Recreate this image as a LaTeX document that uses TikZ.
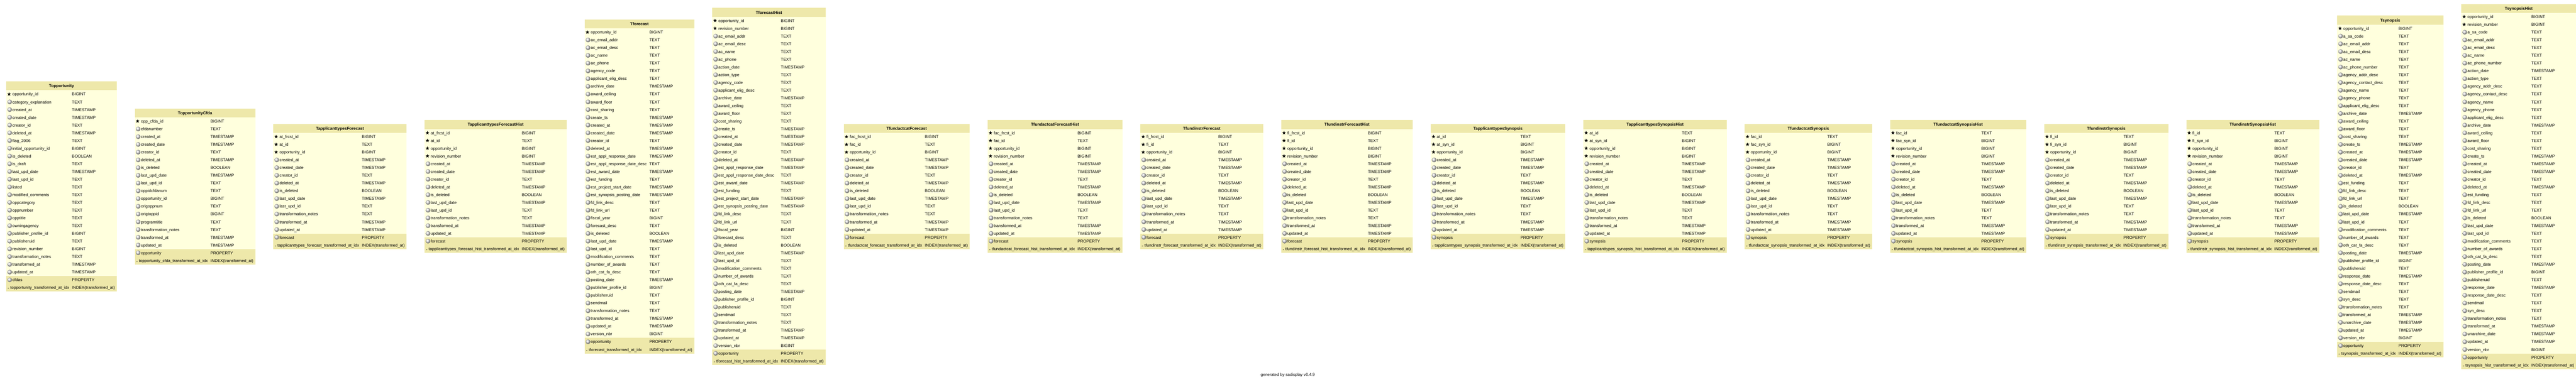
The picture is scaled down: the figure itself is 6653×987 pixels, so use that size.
\documentclass[tikz,border=0pt]{standalone}
\usepackage{fontspec}
\setmainfont{Liberation Sans}
\usetikzlibrary{positioning,shapes.geometric}

\definecolor{headfill}{RGB}{238,232,170}
\definecolor{rowfill}{RGB}{255,255,221}

% one row = 20pt, header = 23pt
\newcommand{\rowstrut}{\rule[-6pt]{0pt}{20pt}}
\newcommand{\headstrut}{\rule[-7.5pt]{0pt}{23pt}}
\newcommand{\fld}[2]{\hspace*{12.5pt}\detokenize{#1} & #2\rowstrut\\}
\newcommand{\idx}[1]{\makebox[7.2pt][l]{\hspace{0.5pt}\fontsize{6}{6}\selectfont »}\detokenize{#1} & \detokenize{INDEX(transformed_at)}\rowstrut\\}
\newcommand{\auditfields}{%
  \fld{created_at}{TIMESTAMP}
  \fld{created_date}{TIMESTAMP}
  \fld{creator_id}{TEXT}
  \fld{deleted_at}{TIMESTAMP}
  \fld{is_deleted}{BOOLEAN}
  \fld{last_upd_date}{TIMESTAMP}
  \fld{last_upd_id}{TEXT}
  \fld{transformation_notes}{TEXT}
  \fld{transformed_at}{TIMESTAMP}
  \fld{updated_at}{TIMESTAMP}}

\tikzset{
  dbtable/.style={fill=rowfill, inner sep=0pt, font=\fontsize{10.6}{12.7}\selectfont,
    path picture={
      \fill[headfill] (path picture bounding box.north west) rectangle ([yshift=-23pt]path picture bounding box.north east);
      \fill[headfill] (path picture bounding box.south west) rectangle ([yshift=40pt]path picture bounding box.south east);}},
  keymark/.style={star, star points=5, star point ratio=2.4, fill=black, inner sep=0pt, minimum size=10pt},
  colmark/.style={circle, inner sep=0pt, minimum size=12pt, ball color=gray!22},
}

% icons: #1 table, #2 key rows, #3 plain rows
\newcommand{\rowmarks}[3]{%
  \foreach \i in {1,...,#2}
    \node[keymark] (#1-k\i) at ([xshift=7.5pt, yshift=-13pt-\i*20pt]#1.north west) {};
  \foreach \i in {1,...,#3}
    \node[colmark] (#1-c\i) at ([xshift=9pt, yshift=-13pt-#2*20pt-\i*20pt]#1.north west) {};
}
% #1 name, #2 placement, #3 title, #4 key rows, #5 plain rows, #6 rows
\newcommand{\dbtable}[6]{%
  \node[dbtable, #2] (#1) {\begin{tabular}{@{\hspace{3.5pt}}l@{\hspace{7pt}}l@{\hspace{5pt}}}
      \multicolumn{2}{c}{\bfseries #3\headstrut}\\
      #6
    \end{tabular}};
  \rowmarks{#1}{#4}{#5}}

\begin{document}
\begin{tikzpicture}
\useasboundingbox (0,0) rectangle (6653pt,987pt);

\dbtable{topp}{anchor=west, at={(16pt,505pt)}}{Topportunity}{1}{24}{%
  \fld{opportunity_id}{BIGINT}
  \fld{category_explanation}{TEXT}
  \fld{created_at}{TIMESTAMP}
  \fld{created_date}{TIMESTAMP}
  \fld{creator_id}{TEXT}
  \fld{deleted_at}{TIMESTAMP}
  \fld{flag_2006}{TEXT}
  \fld{initial_opportunity_id}{BIGINT}
  \fld{is_deleted}{BOOLEAN}
  \fld{is_draft}{TEXT}
  \fld{last_upd_date}{TIMESTAMP}
  \fld{last_upd_id}{TEXT}
  \fld{listed}{TEXT}
  \fld{modified_comments}{TEXT}
  \fld{oppcategory}{TEXT}
  \fld{oppnumber}{TEXT}
  \fld{opptitle}{TEXT}
  \fld{owningagency}{TEXT}
  \fld{publisher_profile_id}{BIGINT}
  \fld{publisheruid}{TEXT}
  \fld{revision_number}{BIGINT}
  \fld{transformation_notes}{TEXT}
  \fld{transformed_at}{TIMESTAMP}
  \fld{updated_at}{TIMESTAMP}
  \fld{cfdas}{PROPERTY}
  \idx{topportunity_transformed_at_idx}}

\dbtable{toppcfda}{right=46pt of topp}{TopportunityCfda}{1}{17}{%
  \fld{opp_cfda_id}{BIGINT}
  \fld{cfdanumber}{TEXT}
  \fld{created_at}{TIMESTAMP}
  \fld{created_date}{TIMESTAMP}
  \fld{creator_id}{TEXT}
  \fld{deleted_at}{TIMESTAMP}
  \fld{is_deleted}{BOOLEAN}
  \fld{last_upd_date}{TIMESTAMP}
  \fld{last_upd_id}{TEXT}
  \fld{oppidcfdanum}{TEXT}
  \fld{opportunity_id}{BIGINT}
  \fld{origoppnum}{TEXT}
  \fld{origtoppid}{BIGINT}
  \fld{programtitle}{TEXT}
  \fld{transformation_notes}{TEXT}
  \fld{transformed_at}{TIMESTAMP}
  \fld{updated_at}{TIMESTAMP}
  \fld{opportunity}{PROPERTY}
  \idx{topportunity_cfda_transformed_at_idx}}

\dbtable{atfcst}{right=46pt of toppcfda}{TapplicanttypesForecast}{3}{11}{%
  \fld{at_frcst_id}{BIGINT}
  \fld{at_id}{TEXT}
  \fld{opportunity_id}{BIGINT}
  \auditfields
  \fld{forecast}{PROPERTY}
  \idx{tapplicanttypes_forecast_transformed_at_idx}}

\dbtable{atfcsthist}{right=46pt of atfcst}{TapplicanttypesForecastHist}{4}{11}{%
  \fld{at_frcst_id}{BIGINT}
  \fld{at_id}{TEXT}
  \fld{opportunity_id}{BIGINT}
  \fld{revision_number}{BIGINT}
  \auditfields
  \fld{forecast}{PROPERTY}
  \idx{tapplicanttypes_forecast_hist_transformed_at_idx}}

\dbtable{fcst}{right=46pt of atfcsthist}{Tforecast}{1}{40}{%
  \fld{opportunity_id}{BIGINT}
  \fld{ac_email_addr}{TEXT}
  \fld{ac_email_desc}{TEXT}
  \fld{ac_name}{TEXT}
  \fld{ac_phone}{TEXT}
  \fld{agency_code}{TEXT}
  \fld{applicant_elig_desc}{TEXT}
  \fld{archive_date}{TIMESTAMP}
  \fld{award_ceiling}{TEXT}
  \fld{award_floor}{TEXT}
  \fld{cost_sharing}{TEXT}
  \fld{create_ts}{TIMESTAMP}
  \fld{created_at}{TIMESTAMP}
  \fld{created_date}{TIMESTAMP}
  \fld{creator_id}{TEXT}
  \fld{deleted_at}{TIMESTAMP}
  \fld{est_appl_response_date}{TIMESTAMP}
  \fld{est_appl_response_date_desc}{TEXT}
  \fld{est_award_date}{TIMESTAMP}
  \fld{est_funding}{TEXT}
  \fld{est_project_start_date}{TIMESTAMP}
  \fld{est_synopsis_posting_date}{TIMESTAMP}
  \fld{fd_link_desc}{TEXT}
  \fld{fd_link_url}{TEXT}
  \fld{fiscal_year}{BIGINT}
  \fld{forecast_desc}{TEXT}
  \fld{is_deleted}{BOOLEAN}
  \fld{last_upd_date}{TIMESTAMP}
  \fld{last_upd_id}{TEXT}
  \fld{modification_comments}{TEXT}
  \fld{number_of_awards}{TEXT}
  \fld{oth_cat_fa_desc}{TEXT}
  \fld{posting_date}{TIMESTAMP}
  \fld{publisher_profile_id}{BIGINT}
  \fld{publisheruid}{TEXT}
  \fld{sendmail}{TEXT}
  \fld{transformation_notes}{TEXT}
  \fld{transformed_at}{TIMESTAMP}
  \fld{updated_at}{TIMESTAMP}
  \fld{version_nbr}{BIGINT}
  \fld{opportunity}{PROPERTY}
  \idx{tforecast_transformed_at_idx}}

\dbtable{fcsthist}{right=46pt of fcst}{TforecastHist}{2}{42}{%
  \fld{opportunity_id}{BIGINT}
  \fld{revision_number}{BIGINT}
  \fld{ac_email_addr}{TEXT}
  \fld{ac_email_desc}{TEXT}
  \fld{ac_name}{TEXT}
  \fld{ac_phone}{TEXT}
  \fld{action_date}{TIMESTAMP}
  \fld{action_type}{TEXT}
  \fld{agency_code}{TEXT}
  \fld{applicant_elig_desc}{TEXT}
  \fld{archive_date}{TIMESTAMP}
  \fld{award_ceiling}{TEXT}
  \fld{award_floor}{TEXT}
  \fld{cost_sharing}{TEXT}
  \fld{create_ts}{TIMESTAMP}
  \fld{created_at}{TIMESTAMP}
  \fld{created_date}{TIMESTAMP}
  \fld{creator_id}{TEXT}
  \fld{deleted_at}{TIMESTAMP}
  \fld{est_appl_response_date}{TIMESTAMP}
  \fld{est_appl_response_date_desc}{TEXT}
  \fld{est_award_date}{TIMESTAMP}
  \fld{est_funding}{TEXT}
  \fld{est_project_start_date}{TIMESTAMP}
  \fld{est_synopsis_posting_date}{TIMESTAMP}
  \fld{fd_link_desc}{TEXT}
  \fld{fd_link_url}{TEXT}
  \fld{fiscal_year}{BIGINT}
  \fld{forecast_desc}{TEXT}
  \fld{is_deleted}{BOOLEAN}
  \fld{last_upd_date}{TIMESTAMP}
  \fld{last_upd_id}{TEXT}
  \fld{modification_comments}{TEXT}
  \fld{number_of_awards}{TEXT}
  \fld{oth_cat_fa_desc}{TEXT}
  \fld{posting_date}{TIMESTAMP}
  \fld{publisher_profile_id}{BIGINT}
  \fld{publisheruid}{TEXT}
  \fld{sendmail}{TEXT}
  \fld{transformation_notes}{TEXT}
  \fld{transformed_at}{TIMESTAMP}
  \fld{updated_at}{TIMESTAMP}
  \fld{version_nbr}{BIGINT}
  \fld{opportunity}{PROPERTY}
  \idx{tforecast_hist_transformed_at_idx}}

\dbtable{facfcst}{right=46pt of fcsthist}{TfundactcatForecast}{3}{11}{%
  \fld{fac_frcst_id}{BIGINT}
  \fld{fac_id}{TEXT}
  \fld{opportunity_id}{BIGINT}
  \auditfields
  \fld{forecast}{PROPERTY}
  \idx{tfundactcat_forecast_transformed_at_idx}}

\dbtable{facfcsthist}{right=46pt of facfcst}{TfundactcatForecastHist}{4}{11}{%
  \fld{fac_frcst_id}{BIGINT}
  \fld{fac_id}{TEXT}
  \fld{opportunity_id}{BIGINT}
  \fld{revision_number}{BIGINT}
  \auditfields
  \fld{forecast}{PROPERTY}
  \idx{tfundactcat_forecast_hist_transformed_at_idx}}

\dbtable{fifcst}{right=46pt of facfcsthist}{TfundinstrForecast}{3}{11}{%
  \fld{fi_frcst_id}{BIGINT}
  \fld{fi_id}{TEXT}
  \fld{opportunity_id}{BIGINT}
  \auditfields
  \fld{forecast}{PROPERTY}
  \idx{tfundinstr_forecast_transformed_at_idx}}

\dbtable{fifcsthist}{right=46pt of fifcst}{TfundinstrForecastHist}{4}{11}{%
  \fld{fi_frcst_id}{BIGINT}
  \fld{fi_id}{TEXT}
  \fld{opportunity_id}{BIGINT}
  \fld{revision_number}{BIGINT}
  \auditfields
  \fld{forecast}{PROPERTY}
  \idx{tfundinstr_forecast_hist_transformed_at_idx}}

\dbtable{atsyn}{right=46pt of fifcsthist}{TapplicanttypesSynopsis}{3}{11}{%
  \fld{at_id}{TEXT}
  \fld{at_syn_id}{BIGINT}
  \fld{opportunity_id}{BIGINT}
  \auditfields
  \fld{synopsis}{PROPERTY}
  \idx{tapplicanttypes_synopsis_transformed_at_idx}}

\dbtable{atsynhist}{right=46pt of atsyn}{TapplicanttypesSynopsisHist}{4}{11}{%
  \fld{at_id}{TEXT}
  \fld{at_syn_id}{BIGINT}
  \fld{opportunity_id}{BIGINT}
  \fld{revision_number}{BIGINT}
  \auditfields
  \fld{synopsis}{PROPERTY}
  \idx{tapplicanttypes_synopsis_hist_transformed_at_idx}}

\dbtable{facsyn}{right=46pt of atsynhist}{TfundactcatSynopsis}{3}{11}{%
  \fld{fac_id}{TEXT}
  \fld{fac_syn_id}{BIGINT}
  \fld{opportunity_id}{BIGINT}
  \auditfields
  \fld{synopsis}{PROPERTY}
  \idx{tfundactcat_synopsis_transformed_at_idx}}

\dbtable{facsynhist}{right=46pt of facsyn}{TfundactcatSynopsisHist}{4}{11}{%
  \fld{fac_id}{TEXT}
  \fld{fac_syn_id}{BIGINT}
  \fld{opportunity_id}{BIGINT}
  \fld{revision_number}{BIGINT}
  \auditfields
  \fld{synopsis}{PROPERTY}
  \idx{tfundactcat_synopsis_hist_transformed_at_idx}}

\dbtable{fisyn}{right=46pt of facsynhist}{TfundinstrSynopsis}{3}{11}{%
  \fld{fi_id}{TEXT}
  \fld{fi_syn_id}{BIGINT}
  \fld{opportunity_id}{BIGINT}
  \auditfields
  \fld{synopsis}{PROPERTY}
  \idx{tfundinstr_synopsis_transformed_at_idx}}

\dbtable{fisynhist}{right=46pt of fisyn}{TfundinstrSynopsisHist}{4}{11}{%
  \fld{fi_id}{TEXT}
  \fld{fi_syn_id}{BIGINT}
  \fld{opportunity_id}{BIGINT}
  \fld{revision_number}{BIGINT}
  \auditfields
  \fld{synopsis}{PROPERTY}
  \idx{tfundinstr_synopsis_hist_transformed_at_idx}}

\dbtable{syn}{right=46pt of fisynhist}{Tsynopsis}{1}{41}{%
  \fld{opportunity_id}{BIGINT}
  \fld{a_sa_code}{TEXT}
  \fld{ac_email_addr}{TEXT}
  \fld{ac_email_desc}{TEXT}
  \fld{ac_name}{TEXT}
  \fld{ac_phone_number}{TEXT}
  \fld{agency_addr_desc}{TEXT}
  \fld{agency_contact_desc}{TEXT}
  \fld{agency_name}{TEXT}
  \fld{agency_phone}{TEXT}
  \fld{applicant_elig_desc}{TEXT}
  \fld{archive_date}{TIMESTAMP}
  \fld{award_ceiling}{TEXT}
  \fld{award_floor}{TEXT}
  \fld{cost_sharing}{TEXT}
  \fld{create_ts}{TIMESTAMP}
  \fld{created_at}{TIMESTAMP}
  \fld{created_date}{TIMESTAMP}
  \fld{creator_id}{TEXT}
  \fld{deleted_at}{TIMESTAMP}
  \fld{est_funding}{TEXT}
  \fld{fd_link_desc}{TEXT}
  \fld{fd_link_url}{TEXT}
  \fld{is_deleted}{BOOLEAN}
  \fld{last_upd_date}{TIMESTAMP}
  \fld{last_upd_id}{TEXT}
  \fld{modification_comments}{TEXT}
  \fld{number_of_awards}{TEXT}
  \fld{oth_cat_fa_desc}{TEXT}
  \fld{posting_date}{TIMESTAMP}
  \fld{publisher_profile_id}{BIGINT}
  \fld{publisheruid}{TEXT}
  \fld{response_date}{TIMESTAMP}
  \fld{response_date_desc}{TEXT}
  \fld{sendmail}{TEXT}
  \fld{syn_desc}{TEXT}
  \fld{transformation_notes}{TEXT}
  \fld{transformed_at}{TIMESTAMP}
  \fld{unarchive_date}{TIMESTAMP}
  \fld{updated_at}{TIMESTAMP}
  \fld{version_nbr}{BIGINT}
  \fld{opportunity}{PROPERTY}
  \idx{tsynopsis_transformed_at_idx}}

\dbtable{synhist}{right=46pt of syn}{TsynopsisHist}{2}{43}{%
  \fld{opportunity_id}{BIGINT}
  \fld{revision_number}{BIGINT}
  \fld{a_sa_code}{TEXT}
  \fld{ac_email_addr}{TEXT}
  \fld{ac_email_desc}{TEXT}
  \fld{ac_name}{TEXT}
  \fld{ac_phone_number}{TEXT}
  \fld{action_date}{TIMESTAMP}
  \fld{action_type}{TEXT}
  \fld{agency_addr_desc}{TEXT}
  \fld{agency_contact_desc}{TEXT}
  \fld{agency_name}{TEXT}
  \fld{agency_phone}{TEXT}
  \fld{applicant_elig_desc}{TEXT}
  \fld{archive_date}{TIMESTAMP}
  \fld{award_ceiling}{TEXT}
  \fld{award_floor}{TEXT}
  \fld{cost_sharing}{TEXT}
  \fld{create_ts}{TIMESTAMP}
  \fld{created_at}{TIMESTAMP}
  \fld{created_date}{TIMESTAMP}
  \fld{creator_id}{TEXT}
  \fld{deleted_at}{TIMESTAMP}
  \fld{est_funding}{TEXT}
  \fld{fd_link_desc}{TEXT}
  \fld{fd_link_url}{TEXT}
  \fld{is_deleted}{BOOLEAN}
  \fld{last_upd_date}{TIMESTAMP}
  \fld{last_upd_id}{TEXT}
  \fld{modification_comments}{TEXT}
  \fld{number_of_awards}{TEXT}
  \fld{oth_cat_fa_desc}{TEXT}
  \fld{posting_date}{TIMESTAMP}
  \fld{publisher_profile_id}{BIGINT}
  \fld{publisheruid}{TEXT}
  \fld{response_date}{TIMESTAMP}
  \fld{response_date_desc}{TEXT}
  \fld{sendmail}{TEXT}
  \fld{syn_desc}{TEXT}
  \fld{transformation_notes}{TEXT}
  \fld{transformed_at}{TIMESTAMP}
  \fld{unarchive_date}{TIMESTAMP}
  \fld{updated_at}{TIMESTAMP}
  \fld{version_nbr}{BIGINT}
  \fld{opportunity}{PROPERTY}
  \idx{tsynopsis_hist_transformed_at_idx}}

\node[font=\fontsize{10.5}{12}\selectfont] (footer) at (3326pt,18pt) {generated by sadisplay v0.4.9};
\end{tikzpicture}
\end{document}
